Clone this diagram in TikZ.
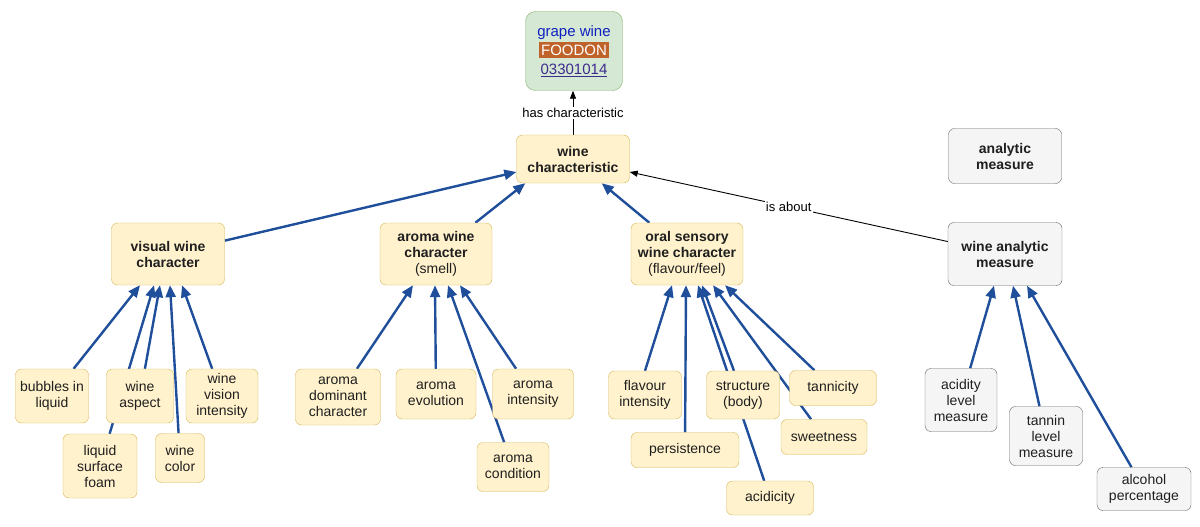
\documentclass[tikz,border=0pt]{standalone}
\usepackage{fontspec}
\setmainfont{Liberation Sans}
\usetikzlibrary{arrows.meta,backgrounds}
\definecolor{ybox}{HTML}{FFF2CC}
\definecolor{yline}{HTML}{D6B656}
\definecolor{gbox}{HTML}{F5F5F5}
\definecolor{gline}{HTML}{666666}
\definecolor{tbox}{HTML}{D5E8D4}
\definecolor{tline}{HTML}{82B366}
\definecolor{isablue}{HTML}{1F4E9A}
\definecolor{foodon}{HTML}{C0632A}
\definecolor{idlink}{HTML}{3D2B8C}
\definecolor{termblue}{HTML}{1020C0}

\begin{document}
\begin{tikzpicture}[x=1pt,y=-1pt,
    box/.style={draw=yline,fill=ybox,rounded corners=6pt,align=center,inner sep=2pt,
      font=\fontsize{14}{16}\selectfont,text=black!88},
    measure/.style={box,draw=gline,fill=gbox},
    term/.style={box,draw=tline,fill=tbox,rounded corners=10pt,font=\fontsize{15}{17}\selectfont},
    isa/.style={draw=isablue,line width=2.4pt,-{Triangle[length=12pt,width=10pt]}},
    rel/.style={draw=black,line width=0.9pt,-{Triangle[length=8pt,width=6pt]}},
    lbl/.style={fill=white,inner sep=1pt,font=\fontsize{13}{15}\selectfont}]
  \useasboundingbox (0,0) rectangle (1200,527);

  \node[term,minimum width=97pt,minimum height=79pt] (grape) at (574,51)
    {{\color{termblue}grape wine}\\[2pt]{\fboxsep=2.5pt\colorbox{foodon}{\color{white}FOODON}}\\[2pt]{\color{idlink}\underline{03301014}}};
  \node[box,minimum width=113pt,minimum height=48pt] (wc) at (573,159) {\bfseries wine\\\bfseries characteristic};
  \node[measure,minimum width=113pt,minimum height=55pt] (am) at (1005,156) {\bfseries analytic\\\bfseries measure};
  \node[measure,minimum width=114pt,minimum height=63pt] (wam) at (1005,254) {\bfseries wine analytic\\\bfseries measure};

  \node[box,minimum width=113pt,minimum height=62pt] (visual) at (168,254) {\bfseries visual wine\\\bfseries character};
  \node[box,minimum width=112pt,minimum height=62pt] (aroma) at (436,254) {\bfseries aroma wine\\\bfseries character\\(smell)};
  \node[box,minimum width=112pt,minimum height=62pt] (oral) at (687,254) {\bfseries oral sensory\\\bfseries wine character\\(flavour/feel)};

  \node[box,minimum width=73pt,minimum height=54pt] (bubbles) at (52,396) {bubbles in\\liquid};
  \node[box,minimum width=67pt,minimum height=54pt] (aspect) at (140,396) {wine\\aspect};
  \node[box,minimum width=72pt,minimum height=54pt] (vision) at (222,396) {wine\\vision\\intensity};
  \node[box,minimum width=74pt,minimum height=64pt] (foam) at (100,466) {liquid\\surface\\foam};
  \node[box,minimum width=49pt,minimum height=49pt] (color) at (180,458) {wine\\color};

  \node[box,minimum width=85pt,minimum height=56pt] (dominant) at (338,397) {aroma\\dominant\\character};
  \node[box,minimum width=80pt,minimum height=50pt] (evolution) at (436,394) {aroma\\evolution};
  \node[box,minimum width=81pt,minimum height=50pt] (aintensity) at (533,394) {aroma\\intensity};
  \node[box,minimum width=72pt,minimum height=49pt] (condition) at (513,467) {aroma\\condition};

  \node[box,minimum width=73pt,minimum height=48pt] (flavour) at (645,395) {flavour\\intensity};
  \node[box,minimum width=108pt,minimum height=35pt] (persistence) at (685,450) {persistence};
  \node[box,minimum width=73pt,minimum height=48pt] (structure) at (743,395) {structure\\(body)};
  \node[box,minimum width=87pt,minimum height=35pt] (tannicity) at (833,388) {tannicity};
  \node[box,minimum width=86pt,minimum height=35pt] (sweetness) at (824,437) {sweetness};
  \node[box,minimum width=87pt,minimum height=34pt] (acidicity) at (770,498) {acidicity};

  \node[measure,minimum width=72pt,minimum height=63pt] (aclevel) at (961,400) {acidity\\level\\measure};
  \node[measure,minimum width=73pt,minimum height=59pt] (tanlevel) at (1046,436) {tannin\\level\\measure};
  \node[measure,minimum width=94pt,minimum height=43pt] (alcohol) at (1144,489) {alcohol\\percentage};

  \begin{scope}[on background layer]
    \draw[rel] (wc.north) -- (wc.north |- grape.south) node[lbl,midway] {has characteristic};
    \draw[rel] (wam) -- ([yshift=-13pt]wc.east) node[lbl,midway] {is about};

    \draw[isa] (visual) -- ([yshift=-13pt]wc.west);
    \draw[isa] (aroma) -- ([xshift=9pt]wc.south west);
    \draw[isa] (oral) -- ([xshift=-28pt]wc.south east);

    \draw[isa] (bubbles) -- ([xshift=-28pt]visual.south);
    \draw[isa] (foam) -- ([xshift=-14pt]visual.south);
    \draw[isa] (aspect) -- ([xshift=-8pt]visual.south);
    \draw[isa] (color) -- ([xshift=2pt]visual.south);
    \draw[isa] (vision) -- ([xshift=14pt]visual.south);

    \draw[isa] (dominant) -- ([xshift=-23pt]aroma.south);
    \draw[isa] (evolution) -- ([xshift=-1pt]aroma.south);
    \draw[isa] (condition) -- ([xshift=12pt]aroma.south);
    \draw[isa] (aintensity) -- ([xshift=24pt]aroma.south);

    \draw[isa] (flavour.north) -- ([xshift=-15pt]oral.south);
    \draw[isa] (persistence) -- ([xshift=-1pt]oral.south);
    \draw[isa] (acidicity) -- ([xshift=11pt]oral.south);
    \draw[isa] (structure) -- ([xshift=15pt]oral.south);
    \draw[isa] (sweetness) -- ([xshift=26pt]oral.south);
    \draw[isa] (tannicity) -- ([xshift=38pt]oral.south);

    \draw[isa] (aclevel) -- ([xshift=-11pt]wam.south);
    \draw[isa] (tanlevel) -- ([xshift=8pt]wam.south);
    \draw[isa] (alcohol) -- ([xshift=22pt]wam.south);
  \end{scope}
\end{tikzpicture}
\end{document}
